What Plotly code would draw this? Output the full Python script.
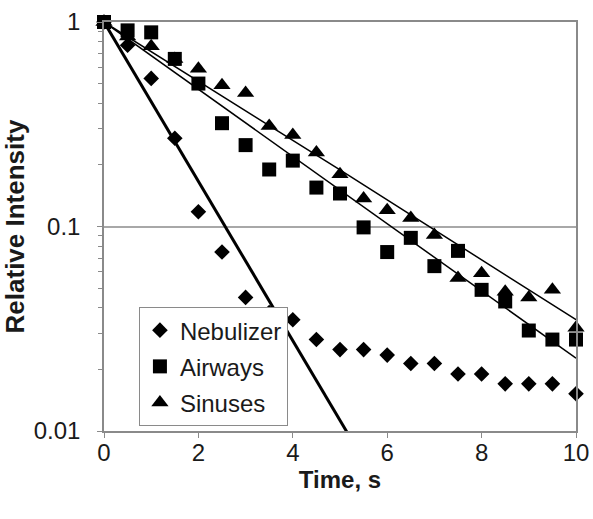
import plotly.graph_objects as go

time_s = [0, 0.5, 1, 1.5, 2, 2.5, 3, 3.5, 4, 4.5, 5, 5.5, 6, 6.5, 7, 7.5, 8, 8.5, 9, 9.5, 10]
nebulizer = [1.0, 0.77, 0.53, 0.27, 0.118, 0.075, 0.045, 0.038, 0.035, 0.028, 0.025,
             0.025, 0.0235, 0.0214, 0.0214, 0.019, 0.019, 0.017, 0.017, 0.017, 0.0152]
airways = [1.0, 0.91, 0.89, 0.66, 0.50, 0.32, 0.25, 0.19, 0.21, 0.155, 0.145,
           0.099, 0.075, 0.088, 0.064, 0.076, 0.049, 0.043, 0.031, 0.028, 0.028]
sinuses = [1.0, 0.85, 0.76, 0.66, 0.59, 0.49, 0.45, 0.31, 0.28, 0.23, 0.18,
           0.137, 0.12, 0.11, 0.091, 0.056, 0.059, 0.048, 0.045, 0.049, 0.032]

# fitted trend lines
neb_fit_t = [0, 5.5]
neb_fit_y = [1.0, 0.0072]
air_fit_t = [0, 5, 10]
air_fit_y = [1.0, 0.151, 0.0227]
sin_fit_t = [0, 5, 10]
sin_fit_y = [1.0, 0.189, 0.035]

x_ticks = [0, 2, 4, 6, 8, 10]
y_ticks = [0.01, 0.1, 1]
y_tick_text = ["0.01", "0.1", "1"]

FONT = "Liberation Sans, Arial, sans-serif"
AX = "#8a8a8a"

fig = go.Figure()
# fit lines
fig.add_trace(go.Scatter(x=neb_fit_t, y=neb_fit_y, mode="lines",
                         line=dict(color="black", width=3), showlegend=False, hoverinfo="skip"))
fig.add_trace(go.Scatter(x=air_fit_t, y=air_fit_y, mode="lines",
                         line=dict(color="black", width=1.5), showlegend=False, hoverinfo="skip"))
fig.add_trace(go.Scatter(x=sin_fit_t, y=sin_fit_y, mode="lines",
                         line=dict(color="black", width=1.5), showlegend=False, hoverinfo="skip"))

fig.add_trace(go.Scatter(x=time_s, y=nebulizer, mode="markers", name="Nebulizer",
                         legendgroup="a", cliponaxis=False,
                         marker=dict(symbol="diamond", size=12, color="black")))
fig.add_trace(go.Scatter(x=time_s, y=airways, mode="markers", name="Airways",
                         legendgroup="b", cliponaxis=False,
                         marker=dict(symbol="square", size=14, color="black")))
fig.add_trace(go.Scatter(x=time_s, y=sinuses, mode="markers", name="Sinuses",
                         legendgroup="c", cliponaxis=False,
                         marker=dict(symbol="triangle-up", size=15, color="black")))

fig.update_layout(
    width=593, height=519,
    margin=dict(l=104, r=17, t=22, b=88),
    paper_bgcolor="white", plot_bgcolor="white",
    font=dict(family=FONT, size=24, color="#1a1a1a"),
    legend=dict(x=0.074, y=0.303, xanchor="left", yanchor="top",
                bgcolor="white", bordercolor="#8a8a8a", borderwidth=1,
                font=dict(size=24), traceorder="grouped", tracegroupgap=2),
    xaxis=dict(range=[0, 10], tickvals=x_ticks, ticks="outside", ticklen=5,
               tickcolor=AX, showline=True, linecolor=AX, linewidth=1.5, mirror=True,
               showgrid=False, zeroline=False, automargin=False, ticklabelstandoff=-6,
               title=dict(text="<b>Time, s</b>", font=dict(size=24), standoff=4)),
    yaxis=dict(type="log", range=[-2, 0], tickvals=y_ticks, ticktext=y_tick_text,
               ticks="outside", ticklen=5, tickcolor=AX,
               minor=dict(ticks="outside", ticklen=4, tickcolor=AX, dtick="D1", showgrid=False),
               showline=True, linecolor=AX, linewidth=1.5, mirror=True,
               showgrid=True, gridcolor="#a8a8a8", gridwidth=1.5, zeroline=False,
               ticklabelstandoff=12, automargin=False,
               title=dict(text="<b>Relative Intensity</b>", font=dict(size=26), standoff=2)),
)

fig.write_html("out.html", config={"displayModeBar": False},
               post_script="document.body.style.margin='0';document.body.style.overflow='hidden';")
